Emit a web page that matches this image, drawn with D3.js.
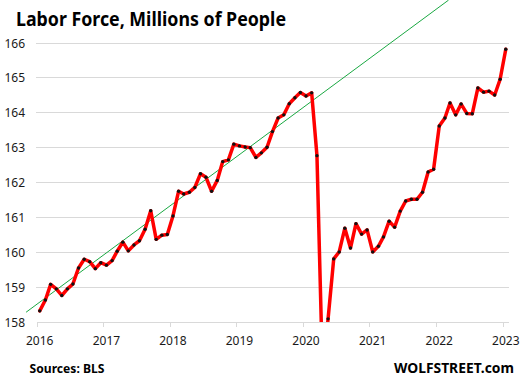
<!DOCTYPE html>
<html><head><meta charset="utf-8">
<script src="https://cdn.jsdelivr.net/npm/d3@7/dist/d3.min.js"></script>
<style>body{margin:0;background:#fff}svg{display:block}</style>
</head><body>
<div id="chart"></div>
<script>
const title = "Labor Force, Millions of People";
const source = "Sources: BLS";
const brand = "WOLFSTREET.com";
const startMonth = "2016-01";
const values = [
  158.32, 158.63, 159.08, 158.95, 158.76, 158.95, 159.09, 159.55, 159.80, 159.73, 159.53, 159.70,
  159.63, 159.76, 160.03, 160.29, 160.04, 160.21, 160.33, 160.66, 161.19, 160.37, 160.49, 160.51,
  161.04, 161.75, 161.67, 161.72, 161.86, 162.25, 162.15, 161.75, 162.06, 162.60, 162.65, 163.10,
  163.05, 163.02, 163.00, 162.72, 162.85, 163.01, 163.46, 163.85, 163.94, 164.26, 164.43, 164.58,
  164.48, 164.57, 162.77, 156.50, 158.09, 159.81, 160.01, 160.69, 160.12, 160.82, 160.52, 160.64,
  160.01, 160.17, 160.44, 160.89, 160.72, 161.18, 161.47, 161.52, 161.52, 161.72, 162.30, 162.38,
  163.62, 163.85, 164.28, 163.94, 164.25, 163.98, 163.97, 164.71, 164.59, 164.62, 164.51, 164.96,
  165.82
];
const yTicks = [158, 159, 160, 161, 162, 163, 164, 165, 166];
const xTickYears = [2016, 2017, 2018, 2019, 2020, 2021, 2022, 2023];
const trendDates = ["2015-11-02", "2022-03-08"];
const trendValues = [158.28, 167.23];

const W = 524, H = 382;
const m = {left: 37, right: 508.7, top: 43, bottom: 322};
const svg = d3.select("#chart").append("svg").attr("width", W).attr("height", H);

const parse = d3.utcParse("%Y-%m-%d");
const [sy, sm] = startMonth.split("-").map(Number);
const data = values.map((v, i) => ({date: new Date(Date.UTC(sy, sm - 1 + i, 16)), value: v}));

const x = d3.scaleUtc().domain([new Date(Date.UTC(2016,0,1)), new Date(Date.UTC(2023,1,1))]).range([m.left, m.right]);
const y = d3.scaleLinear().domain([158, 166]).range([m.bottom, m.top]);

const font = "'Noto Sans', 'Open Sans', sans-serif";

// gridlines
svg.append("g").selectAll("line").data(yTicks.slice(1)).join("line")
  .attr("x1", m.left - 1).attr("x2", m.right).attr("y1", d => y(d)).attr("y2", d => y(d))
  .attr("stroke", "#d9d9d9").attr("stroke-width", 1).attr("shape-rendering", "crispEdges");

// y labels
svg.append("g").selectAll("text").data(yTicks).join("text")
  .attr("x", 25).attr("y", d => y(d) + 4.5).attr("text-anchor", "end")
  .attr("font-family", font).attr("font-size", 12).attr("fill", "#1a1a1a").text(d => d);

// x axis line + ticks
svg.append("line").attr("x1", m.left).attr("x2", m.right).attr("y1", m.bottom).attr("y2", m.bottom)
  .attr("stroke", "#d9d9d9").attr("shape-rendering", "crispEdges");
svg.append("g").selectAll("line").data(xTickYears).join("line")
  .attr("x1", d => x(new Date(Date.UTC(d,0,1)))).attr("x2", d => x(new Date(Date.UTC(d,0,1))))
  .attr("y1", m.bottom).attr("y2", m.bottom + 5)
  .attr("stroke", "#d9d9d9").attr("shape-rendering", "crispEdges");
svg.append("g").selectAll("text").data(xTickYears).join("text")
  .attr("x", d => x(new Date(Date.UTC(d,0,16)))).attr("y", 344.5).attr("text-anchor", "middle")
  .attr("font-family", font).attr("font-size", 12).attr("fill", "#1a1a1a").text(d => d);

// trend line
const trend = trendDates.map((d, i) => ({date: parse(d), value: trendValues[i]}));
svg.append("path").datum(trend)
  .attr("d", d3.line().x(d => x(d.date)).y(d => y(d.value)))
  .attr("fill", "none").attr("stroke", "#1aa842").attr("stroke-width", 1);

// clip
svg.append("clipPath").attr("id", "plotclip").append("rect")
  .attr("x", 0).attr("y", 0).attr("width", W).attr("height", m.bottom);

const g = svg.append("g").attr("clip-path", "url(#plotclip)");
g.append("path").datum(data)
  .attr("d", d3.line().x(d => x(d.date)).y(d => y(d.value)))
  .attr("fill", "none").attr("stroke", "#ff0000").attr("stroke-width", 3.5)
  .attr("stroke-linejoin", "round").attr("stroke-linecap", "round");
g.append("g").selectAll("circle").data(data).join("circle")
  .attr("cx", d => x(d.date)).attr("cy", d => y(d.value)).attr("r", 1.7).attr("fill", "#111");

// texts
svg.append("text").attr("x", 16).attr("y", 26).attr("font-family", font).attr("font-weight", "bold")
  .attr("font-size", 19).attr("textLength", 270).attr("lengthAdjust", "spacingAndGlyphs")
  .attr("fill", "#000").text(title);
svg.append("text").attr("x", 29.5).attr("y", 372.5).attr("font-family", font).attr("font-weight", "bold")
  .attr("font-size", 13).attr("textLength", 75).attr("lengthAdjust", "spacingAndGlyphs")
  .attr("fill", "#000").text(source);
svg.append("text").attr("x", 394).attr("y", 372.5).attr("font-family", font).attr("font-weight", "bold")
  .attr("font-size", 15).attr("textLength", 120).attr("lengthAdjust", "spacingAndGlyphs")
  .attr("fill", "#000").text(brand);
</script>
</body></html>
